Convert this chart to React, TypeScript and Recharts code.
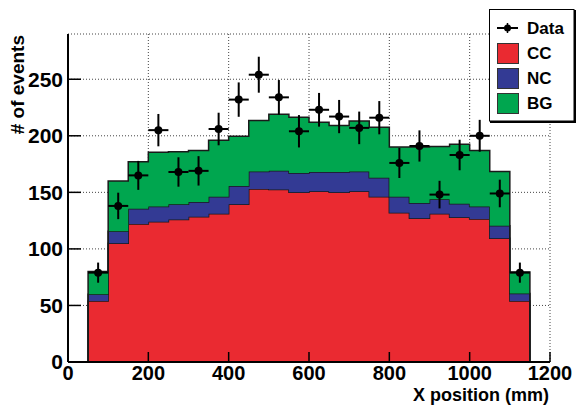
import { ComposedChart, Area, Scatter, ErrorBar, XAxis, YAxis, CartesianGrid, Legend } from 'recharts';

// bin edges (mm), 50 mm wide
const binEdges = [50, 100, 150, 200, 250, 300, 350, 400, 450, 500, 550, 600, 650, 700, 750, 800, 850, 900, 950, 1000, 1050, 1100, 1150];
const binCenters = [75, 125, 175, 225, 275, 325, 375, 425, 475, 525, 575, 625, 675, 725, 775, 825, 875, 925, 975, 1025, 1075, 1125];

// stacked MC components, per bin
const ccCounts = [54, 105, 122, 124, 126, 128.5, 131, 139.5, 153, 152.5, 150, 151, 150, 151, 146, 132, 127, 131, 128, 126.5, 109.5, 54];
const ncCounts = [6, 10.5, 13.5, 13.5, 13.5, 13, 15, 16, 15.5, 16.5, 17, 17, 18, 17.5, 17, 14, 13.5, 13, 12, 11, 11, 6.5];
const bgCounts = [20, 44.5, 41.5, 48, 46.5, 45.5, 50, 44, 45, 50, 49.5, 44, 41, 44.5, 44.5, 44, 49.5, 46.5, 52.5, 49.5, 48, 19];

// measured data with stat errors
const dataCounts = [79, 138, 165, 205, 168, 169, 206, 232, 254, 234, 204, 223, 217, 207, 216, 176, 191, 148, 183, 200, 149, 79];
const dataErrors = [8.9, 11.7, 12.8, 14.3, 13, 13, 14.4, 15.2, 15.9, 15.3, 14.3, 14.9, 14.7, 14.4, 14.7, 13.3, 13.8, 12.2, 13.5, 14.1, 12.2, 8.9];
const halfBin = 25;

const xTicks = [0, 200, 400, 600, 800, 1000, 1200];
const yTicks = [0, 50, 100, 150, 200, 250];

const legendLabels = ['Data', 'CC', 'NC', 'BG'];
const colors = { cc: '#ea2a31', nc: '#333a94', bg: '#00a64f' };
const font = '"Liberation Sans", Arial, Helvetica, sans-serif';

// histogram outline: start and end at zero so the edges are drawn
const last = ccCounts.length - 1;
const histData = [
  { x: binEdges[0], cc: 0, nc: 0, bg: 0 },
  ...binEdges.map((x, i) => {
    const j = Math.min(i, last);
    return { x, cc: ccCounts[j], nc: ncCounts[j], bg: bgCounts[j] };
  }),
  { x: binEdges[binEdges.length - 1], cc: 0, nc: 0, bg: 0 },
];

const points = binCenters.map((x, i) => ({ x, y: dataCounts[i], ex: halfBin, ey: dataErrors[i] }));

const xTickStyle = { fontSize: 20, fontWeight: 'bold', fill: '#000', fontFamily: font };
const yTickStyle = { fontSize: 21, fontWeight: 'bold', fill: '#000', fontFamily: font };

const Dot = (props: any) => <circle cx={props.cx} cy={props.cy} r={4} fill="#000" />;

function LegendBox() {
  const boxColors = [colors.cc, colors.nc, colors.bg];
  return (
    <svg width={87} height={114} style={{ display: 'block' }}>
      <rect x={0.5} y={0.5} width={84.5} height={111.5} fill="#fff" stroke="#000" strokeWidth={1} />
      <line x1={86} y1={1} x2={86} y2={114} stroke="#000" strokeWidth={2} />
      <line x1={1} y1={113} x2={87} y2={113} stroke="#000" strokeWidth={2} />
      <line x1={8} y1={19} x2={29} y2={19} stroke="#000" strokeWidth={2} />
      <line x1={18.5} y1={14} x2={18.5} y2={24} stroke="#000" strokeWidth={1.5} />
      <circle cx={18.5} cy={19} r={3.5} fill="#000" />
      {legendLabels.map((label, i) => (
        <text key={label} x={38} y={24.5 + i * 25} fontFamily={font} fontWeight="bold" fontSize={17} fill="#000">
          {label}
        </text>
      ))}
      {boxColors.map((c, i) => (
        <rect key={c} x={8.5} y={34.5 + i * 25} width={21} height={20} fill={c} stroke="#333" strokeWidth={1} />
      ))}
    </svg>
  );
}

export default function App() {
  return (
    <div style={{ position: 'absolute', left: 0, top: 0, width: 576, height: 405, background: '#fff' }}>
      <ComposedChart width={576} height={405} data={histData} margin={{ top: 34, right: 26, bottom: 13, left: 8 }}>
        <CartesianGrid stroke="#444" strokeDasharray="1 2" vertical horizontal />
        <Area type="stepAfter" dataKey="cc" stackId="h" fill={colors.cc} fillOpacity={1} stroke="#1a1a1a" strokeWidth={1.5} dot={false} activeDot={false} isAnimationActive={false} />
        <Area type="stepAfter" dataKey="nc" stackId="h" fill={colors.nc} fillOpacity={1} stroke="#1a1a1a" strokeWidth={1.5} dot={false} activeDot={false} isAnimationActive={false} />
        <Area type="stepAfter" dataKey="bg" stackId="h" fill={colors.bg} fillOpacity={1} stroke="#1a1a1a" strokeWidth={1.5} dot={false} activeDot={false} isAnimationActive={false} />
        <Scatter data={points} dataKey="y" shape={Dot} isAnimationActive={false}>
          <ErrorBar dataKey="ey" direction="y" width={0} stroke="#000" strokeWidth={2} />
          <ErrorBar dataKey="ex" direction="x" width={0} stroke="#000" strokeWidth={2} />
        </Scatter>
        <XAxis
          dataKey="x"
          type="number"
          domain={[0, 1200]}
          ticks={xTicks}
          interval={0}
          height={30}
          tickSize={-10}
          tickMargin={14}
          tick={xTickStyle}
          axisLine={{ stroke: '#000', strokeWidth: 2 }}
          tickLine={{ stroke: '#000', strokeWidth: 1.5 }}
          allowDataOverflow
        />
        <XAxis xAxisId="top" orientation="top" type="number" domain={[0, 1200]} height={0} tick={false} tickLine={false} axisLine={{ stroke: '#000', strokeWidth: 2 }} />
        <YAxis
          type="number"
          domain={[0, 290]}
          ticks={yTicks}
          interval={0}
          width={60}
          tickSize={-13}
          tickMargin={18}
          tick={yTickStyle}
          axisLine={{ stroke: '#000', strokeWidth: 2 }}
          tickLine={{ stroke: '#000', strokeWidth: 1.5 }}
          allowDataOverflow
        />
        <YAxis yAxisId="right" orientation="right" type="number" domain={[0, 290]} width={0} tick={false} tickLine={false} axisLine={{ stroke: '#000', strokeWidth: 2 }} />
        <Legend
          layout="vertical"
          align="center"
          verticalAlign="middle"
          content={() => <LegendBox />}
          wrapperStyle={{ left: 489, top: 9, width: 87, height: 114 }}
        />
        <text x={24} y={35} transform="rotate(-90 24 35)" textAnchor="end" fontFamily={font} fontWeight="bold" fontSize={19} fill="#000">
          # of events
        </text>
        <text x={549} y={401} textAnchor="end" fontFamily={font} fontWeight="bold" fontSize={18} fill="#000">
          X position (mm)
        </text>
      </ComposedChart>
    </div>
  );
}
